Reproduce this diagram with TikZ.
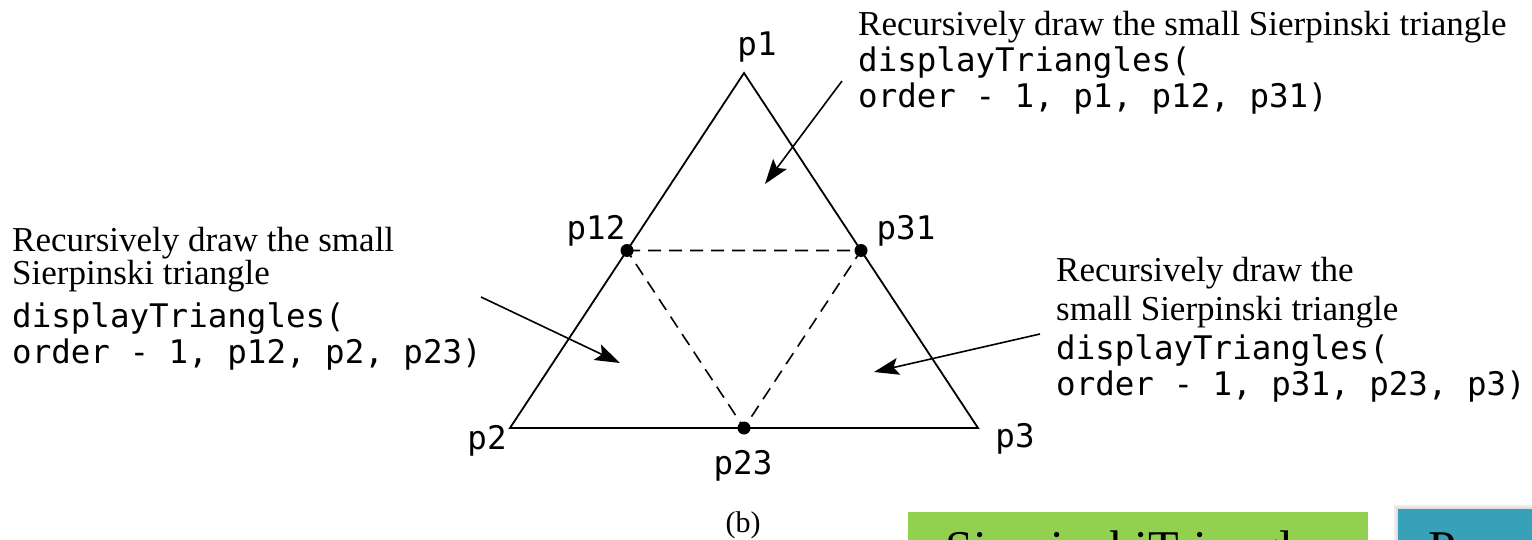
\documentclass[tikz,border=0pt]{standalone}
\usepackage{fontspec}
\setmainfont{Liberation Serif}
\setmonofont{DejaVu Sans Mono}
\usetikzlibrary{arrows.meta,calc}
\definecolor{btngreen}{HTML}{92D050}
\definecolor{btnblue}{HTML}{36A1B9}
\begin{document}
\begin{tikzpicture}[x=1pt,y=-1pt,
  edge/.style={line width=1.8pt},
  dashedge/.style={line width=1.6pt, dash pattern=on 13pt off 8pt},
  dot/.style={circle, fill=black, inner sep=0pt, minimum size=13pt},
  lbl/.style={font=\fontsize{32.5}{36}\selectfont\ttfamily, inner sep=0pt, anchor=base},
  serifline/.style={font=\fontsize{35}{37}\selectfont, inner sep=0pt, anchor=base west},
  codeline/.style={font=\fontsize{32.5}{36}\selectfont\ttfamily, inner sep=0pt, anchor=base west},
  pointer/.style={line width=1.6pt, -{Stealth[length=25pt,width=17pt,inset=5pt]}},
]
\useasboundingbox (0,0) rectangle (1532,540);
\clip (0,0) rectangle (1532,540);
% triangle corners
\coordinate (p1) at (744,73);
\coordinate (p2) at (510,428);
\coordinate (p3) at (978,428);
\draw[edge, line join=miter] (p1) -- (p2) -- (p3) -- cycle;
% midpoints
\node[dot] (p12) at ($(p1)!0.5!(p2)$) {};
\node[dot] (p31) at ($(p1)!0.5!(p3)$) {};
\node[dot] (p23) at ($(p2)!0.5!(p3)$) {};
\draw[dashedge] (p12.center) -- (p31.center) -- (p23.center) -- cycle;
% corner labels
\node[lbl] (l1) at (757,56) {p1};
\node[lbl] (l12) at (596,240) {p12};
\node[lbl] (l31) at (906,240) {p31};
\node[lbl] (l2) at (487,449) {p2};
\node[lbl] (l3) at (1015,447) {p3};
\node[lbl] (l23) at (743,474) {p23};
\node[font=\fontsize{30}{34}\selectfont, inner sep=0pt, anchor=base] (cap) at (743,532) {(b)};
% top note
\node[serifline] (ta) at (858,36) {Recursively draw the small Sierpinski triangle};
\node[codeline] (tb) at (858,72) {displayTriangles(};
\node[codeline] (tc) at (858,108) {order - 1, p1, p12, p31)};
% left note
\node[serifline] (la) at (12,252) {Recursively draw the small};
\node[serifline] (lb) at (12,284) {Sierpinski triangle};
\node[codeline] (lc) at (12,327) {displayTriangles(};
\node[codeline] (ld) at (12,363) {order - 1, p12, p2, p23)};
% right note
\node[serifline] (ra) at (1056,282) {Recursively draw the};
\node[serifline] (rb) at (1056,320) {small Sierpinski triangle};
\node[codeline] (rc) at (1056,359) {displayTriangles(};
\node[codeline] (rd) at (1056,395) {order - 1, p31, p23, p3)};
% pointers
\coordinate (ts) at (842,81);
\coordinate (tt) at (765,184);
\coordinate (ls) at (481,297);
\coordinate (lt) at (620,363);
\coordinate (rs) at (1040,334);
\coordinate (rt) at (874,372);
\draw[pointer] (ts) -- (tt);
\draw[pointer] (ls) -- (lt);
\draw[pointer] (rs) -- (rt);
% buttons
\fill[black!7] (1394,505) rectangle (1540,550);
\fill[black!12] (1396,507) rectangle (1540,550);
\node[fill=btngreen, minimum width=460pt, minimum height=50pt, anchor=north west, inner sep=0pt] (gbtn) at (908,512) {};
\node[font=\fontsize{50}{54}\selectfont, inner sep=0pt, anchor=base west] (gtxt) at (945,565) {SierpinskiTriangle};
\node[fill=btnblue, minimum width=150pt, minimum height=50pt, anchor=north west, inner sep=0pt] (bbtn) at (1398,509) {};
\node[font=\fontsize{50}{54}\selectfont, inner sep=0pt, anchor=base west] (btxt) at (1428,565) {P};
\end{tikzpicture}
\end{document}
